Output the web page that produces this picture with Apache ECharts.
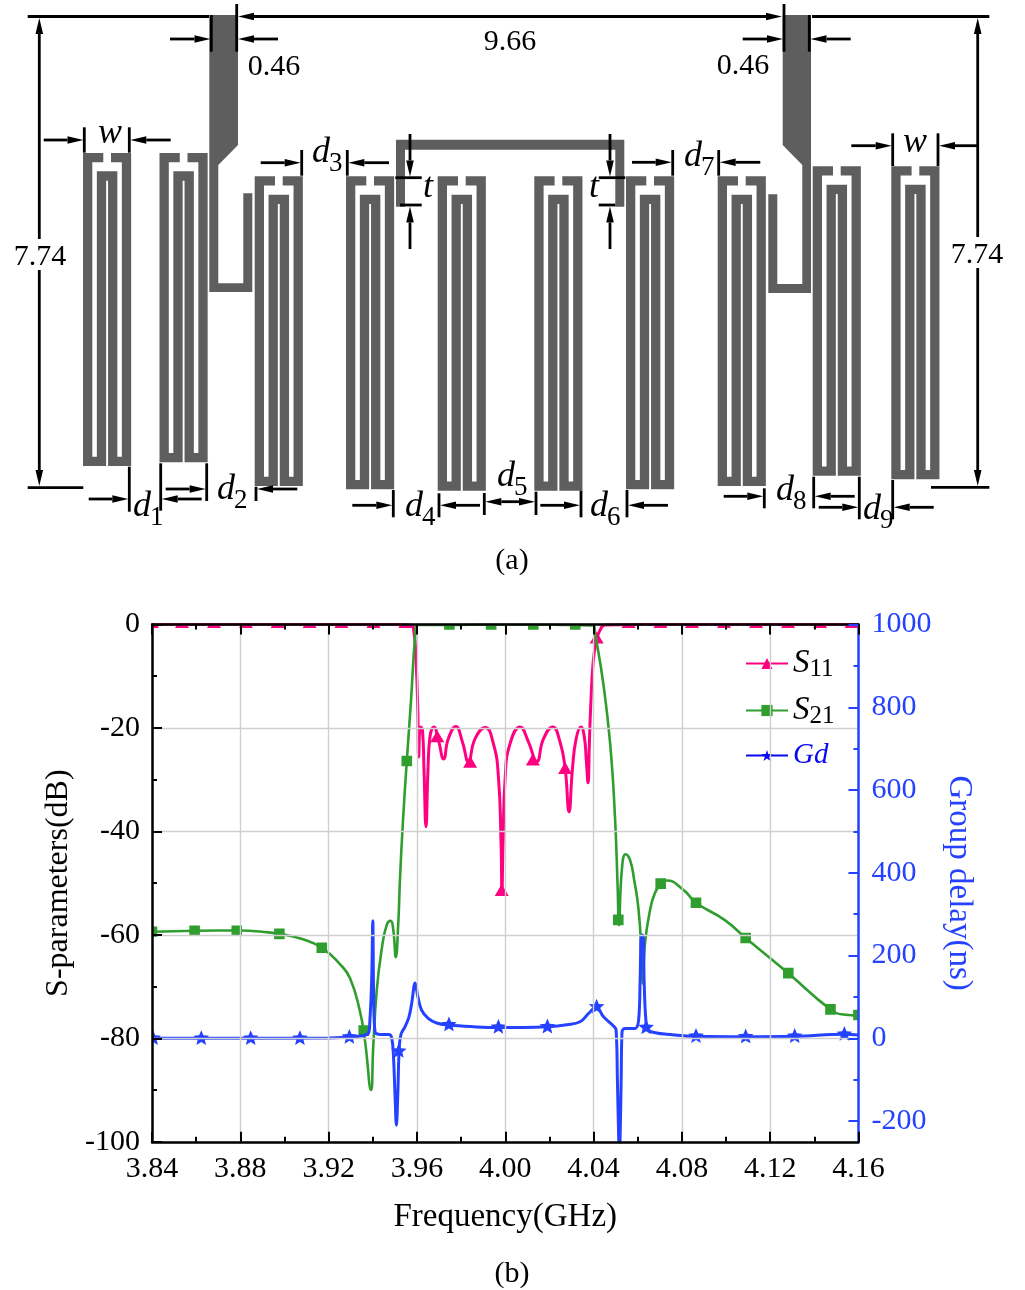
<!DOCTYPE html>
<html>
<head>
<meta charset="utf-8">
<title>Filter layout and S-parameters</title>
<style>
  html, body { margin: 0; padding: 0; background: #fff; }
  #chart { width: 1025px; height: 1290px; }
</style>
<script src="https://cdn.jsdelivr.net/npm/echarts@6/dist/echarts.min.js"></script>
</head>
<body>
<div id="chart"></div>
<script>
// values: [GHz, dB] and [GHz, ns]
const s11Curve = [
  [3.84,0],[3.90,0],[3.95,0],[3.9572,-0.1],[3.9587,-1.7],[3.9596,-6.9],[3.9604,-16.5],[3.9608,-25.6],
  [3.9616,-19.8],[3.9625,-20.4],[3.9632,-28.1],[3.9641,-39.1],[3.965,-28.1],[3.9659,-21.7],[3.9677,-19.8],
  [3.9697,-22.3],[3.9721,-26],[3.9742,-22.1],[3.9776,-19.7],[3.9806,-22.7],[3.9833,-26.5],[3.9863,-22.1],
  [3.9909,-19.9],[3.9946,-23],[3.9969,-29.4],[3.9981,-42.3],[3.9985,-51.5],[3.999,-42.3],[4.0,-29.4],
  [4.0022,-23],[4.0067,-19.8],[4.0105,-22.7],[4.0143,-26.5],[4.0173,-22.1],[4.0215,-19.8],[4.0248,-22.7],
  [4.0271,-27.7],[4.0289,-36.2],[4.0304,-28.1],[4.0321,-22.1],[4.0343,-19.8],[4.0358,-21.7],[4.0367,-26.2],
  [4.0375,-30.6],[4.0381,-23],[4.0387,-15.9],[4.0399,-6.9],[4.0414,-3],[4.0429,-1.1],[4.0452,-0.1],
  [4.06,0],[4.16,0]
];
const s21Curve = [
  [3.84,-59.4],[3.86,-59.2],[3.88,-59.15],[3.89,-59.4],[3.8977,-59.8],[3.9072,-60.7],[3.9169,-62.5],
  [3.9252,-65.7],[3.9297,-68.4],[3.9342,-74.8],[3.9365,-80.6],[3.9392,-90],[3.9402,-81.7],[3.9418,-70.7],
  [3.9441,-62.6],[3.9463,-58.1],[3.9481,-57.3],[3.9493,-59.1],[3.9504,-64.3],[3.9516,-57.2],[3.9523,-49.4],
  [3.9537,-37.8],[3.9554,-26.4],[3.9573,-14.8],[3.9591,-2.7],[3.9602,-0.1],[3.97,-0.1],[4.0,0],[4.03,-0.1],
  [4.04,-0.2],[4.0407,-1.7],[4.0444,-11.4],[4.0475,-23],[4.0497,-37.2],[4.0509,-50.7],[4.0515,-58.1],
  [4.0528,-47.5],[4.0545,-44.4],[4.0565,-45.5],[4.0584,-49.4],[4.0604,-55.2],[4.0618,-64.3],[4.0623,-69.4],
  [4.0633,-61.6],[4.0656,-55.2],[4.0678,-51.9],[4.0704,-50.2],[4.0731,-49.5],[4.0807,-51.3],[4.0864,-53.8],
  [4.0993,-57.1],[4.1089,-60.6],[4.1282,-67.4],[4.1473,-74.4],[4.1532,-75.4],[4.16,-75.6]
];
const gdCurve = [
  [3.84,0],[3.88,0],[3.92,1],[3.9297,3.6],[3.938,12],[3.9387,44],[3.9395,141],[3.94,284],[3.9404,100],
  [3.941,16],[3.9425,10],[3.9475,9],[3.9486,0],[3.9493,-36],[3.9501,-141],[3.9507,-210],[3.9513,-141],
  [3.952,-21],[3.9528,10],[3.9546,28],[3.9564,52],[3.9576,84],[3.9592,134],[3.9603,104],[3.9621,68],
  [3.9651,48],[3.9689,37],[3.9745,32],[3.9855,28],[3.9969,26],[4.0082,26],[4.0193,28],[4.0279,33],
  [4.0339,40],[4.0377,60],[4.0412,76],[4.0445,52],[4.049,30],[4.0502,20],[4.0508,-101],[4.0514,-246],
  [4.0517,-290],[4.052,-246],[4.0525,-101],[4.0529,16],[4.0543,24],[4.0588,24],[4.0604,44],[4.0611,141],
  [4.0617,249],[4.0624,249],[4.0629,141],[4.0637,44],[4.0648,20],[4.0686,13],[4.0731,10],[4.0864,5],
  [4.1089,4],[4.1311,5],[4.1536,10],[4.16,8]
];
const s11Marks = [
  [3.84,0],[3.8536,0],[3.8681,0],[3.8825,0],[3.8969,0],[3.9114,0],[3.9258,0],[3.9403,0],[3.9548,0],
  [3.9692,-22.1],[3.9841,-27],[3.9984,-51.8],[4.0125,-26.6],[4.0271,-28.2],[4.0414,-3],
  [4.0559,0],[4.0703,0],[4.0846,0],[4.0991,0],[4.1136,0],[4.1281,0],[4.1426,0],[4.1569,0]
];
const s21Marks = [
  [3.84,-59.4],[3.8593,-59.2],[3.8784,-59.2],[3.8977,-59.8],[3.9169,-62.5],[3.9359,-78.5],[3.9554,-26.4],
  [3.9747,0],[3.9936,0],[4.0127,0],[4.0317,0],[4.0512,-57.1],[4.0704,-50.1],[4.0864,-53.8],
  [4.1089,-60.6],[4.1282,-67.4],[4.1473,-74.4],[4.16,-75.5]
];
const gdMarks = [
  [3.8405,0],[3.8623,0],[3.8847,0],[3.907,0],[3.9294,3],[3.9518,-31],[3.9745,33],[3.9969,27],[4.0191,28],
  [4.0414,76],[4.0638,26],[4.0864,5],[4.1089,4],[4.1311,5],[4.1536,10]
];

const gdTicks = [-200,0,200,400,600,800,1000];
const gdMinorTicks = [-100,100,300,500,700,900];

// layout of panel (a), in page pixels: [left, top, bottom] of each hairpin
const resonators = [
  [83,153,466],[159.5,153,462.3],[254.7,176.3,486],[346,176.3,489.3],[437.7,176.3,490.7],
  [534.3,176.3,490.7],[626,176.3,489.3],[717.7,176.3,486],[812.7,166.3,475.7],[891.3,166.3,479.3]
];
const copper = [
  [[209.3,15],[238,15],[238,145],[218.3,165],[218.3,283.3],[243.3,283.3],[243.3,193.3],[252.3,193.3],[252.3,292],[209.3,292]],
  [[782.7,15],[811,15],[811,293],[768.3,293],[768.3,194.3],[777.3,194.3],[777.3,284],[802.3,284],[802.3,165],[782.7,145]],
  [[396,139.7],[624.3,139.7],[624.3,206.7],[615.3,206.7],[615.3,149.7],[405,149.7],[405,206.7],[396,206.7]]
];
const dimLines = [
  [27.7,16.5,209,16.5],[812,16.5,989.3,16.5],[27.7,487.7,83.3,487.7],[931,487.3,989.3,487.3],
  [236.7,4,236.7,51.7],[211.3,15,211.3,51.7],[784,4,784,51.7],[809.3,15,809.3,51.7],
  [84.3,127.3,84.3,152.7],[129.3,127.3,129.3,152.7],[892.7,133.3,892.7,166],[938,133.3,938,166],
  [301.7,150,301.7,175.7],[347.3,150,347.3,175.7],[672.7,150,672.7,175.7],[718.7,150,718.7,175.7],
  [395.3,177.7,421.7,177.7],[400,205,421.7,205],[598.7,177.7,625.3,177.7],[598.7,205,615.3,205],
  [129.3,466.7,129.3,511.7],[160.7,463.3,160.7,510.7],[206.7,463.3,206.7,501],[256,486.7,256,501],
  [393.3,490,393.3,517.3],[439,493.3,439,517.3],[484.3,493,484.3,515],[536,491.7,536,515],
  [581,490.7,581,517.3],[627,490,627,517.3],[764.3,488.3,764.3,508.3],[813.7,476.7,813.7,508.3],
  [859.3,476.7,859.3,519.3],[892.7,480,892.7,519.3]
];
// tail x, tail y, tip x, tip y
const arrows = [
  [510,16.5,238,16.5],[510,16.5,782,16.5],
  [170,39,210.5,39],[278,39,238,39],[742.7,39,783,39],[850.7,39,810.5,39],
  [39.3,239,39.3,18],[39.3,270,39.3,486],[977.7,237,977.7,18],[977.7,268,977.7,486],
  [43.7,140,83.5,140],[170.7,140,130.3,140],[851.3,145.7,891.7,145.7],[977,145.7,939,145.7],
  [260.7,162.7,300.7,162.7],[389,162.7,348.3,162.7],[632,162.3,671.7,162.3],[760.3,162.3,719.7,162.3],
  [410,134,410,176.5],[410,249,410,206.5],[610,134,610,176.5],[610,249,610,206.5],
  [88.7,499,128.3,499],[201.7,499,161.7,499],[165.7,489,205.7,489],[297.3,489,257,489],
  [352.3,505.3,392.3,505.3],[480,505.3,440,505.3],[510,501.7,485.3,501.7],[510,501.7,535,501.7],
  [540.3,505.3,580,505.3],[668,505.3,628,505.3],[723.7,496.3,763.3,496.3],[854.7,496.3,814.7,496.3],
  [818.7,507.3,858.3,507.3],[933.7,507.3,893.7,507.3]
];
// text, center x, center y
const plainLabels = [
  ["9.66",510,42],["0.46",274,67],["0.46",743,66],["7.74",40,257],["7.74",977,255],["(a)",512,561],["(b)",512,1274]
];
// letter, subscript, left x, letter center y
const italicLabels = [
  ["w","",98,134],["w","",903,143],["d","3",312,153],["d","7",684,157],["t","",423,188],["t","",589,188],
  ["d","1",133,507],["d","2",217,490],["d","4",405,507],["d","5",497,477],["d","6",590,507],
  ["d","8",776,491],["d","9",863,510]
];

const SERIF = '"Liberation Serif", "Times New Roman", serif';
const PINK = "#FF0080", GREEN = "#2F9E2F", BLUE = "#2442FF";
const STAR = "path://M50 0 L61.8 35.5 L100 35.5 L69.1 57.4 L80.9 95 L50 72 L19.1 95 L30.9 57.4 L0 35.5 L38.2 35.5 Z";

function hairpin(r) {
  const x = r[0], t = r[1] + 4.65, b = r[2] - 4.65, m = r[1] + 23;
  return [[x + 20.3, t], [x + 4.65, t], [x + 4.65, b], [x + 18.5, b], [x + 18.5, m], [x + 29.7, m],
    [x + 29.7, b], [x + 43.5, b], [x + 43.5, t], [x + 28, t]];
}

function markerSeries(name, data, yIndex, kind, color) {
  return {
    name: name,
    type: "custom",
    xAxisIndex: 0,
    yAxisIndex: yIndex,
    clip: true,
    z: 3,
    data: data,
    encode: { x: 0, y: 1 },
    renderItem: function (params, api) {
      const p = api.coord([api.value(0), api.value(1)]);
      const style = { fill: color };
      if (kind === "rect") {
        return { type: "rect", shape: { x: p[0] - 5.3, y: p[1] - 5.3, width: 10.6, height: 10.6 }, style: style };
      }
      if (kind === "triangle") {
        return { type: "polygon", shape: { points: [[p[0], p[1] - 8.5], [p[0] + 7, p[1] + 3.5], [p[0] - 7, p[1] + 3.5]] }, style: style };
      }
      const pts = [];
      for (let i = 0; i < 10; i++) {
        const r = i % 2 ? 3.7 : 8.2;
        const a = -Math.PI / 2 + i * Math.PI / 5;
        pts.push([p[0] + r * Math.cos(a), p[1] + r * Math.sin(a)]);
      }
      return { type: "polygon", shape: { points: pts }, style: style };
    }
  };
}

// helper for panel (a): one custom series per kind, scaled through the page-sized grid
function layoutSeries(list, draw) {
  return {
    type: "custom",
    xAxisIndex: 2,
    yAxisIndex: 3,
    clip: false,
    silent: true,
    z: 1,
    data: list.map(function (d, i) { return [i]; }),
    encode: { x: 0 },
    renderItem: function (params, api) {
      return draw(list[params.dataIndex], function (x, y) { return api.coord([x, y]); });
    }
  };
}

const chart = echarts.init(document.getElementById("chart"), null, { renderer: "canvas" });

chart.setOption({
  animation: false,
  backgroundColor: "#fff",
  legend: {
    orient: "vertical",
    left: 740,
    top: 642,
    itemWidth: 42,
    itemHeight: 14,
    itemGap: 12,
    selectedMode: false,
    data: [
      { name: "S11" },
      { name: "S21" },
      { name: "Gd", itemStyle: { color: "#0A0AF0" }, lineStyle: { color: "#0A0AF0" } }
    ],
    formatter: function (name) {
      if (name === "S11") return "{it|S}{sub|11}";
      if (name === "S21") return "{it|S}{sub|21}";
      return "{gd|Gd}";
    },
    textStyle: {
      rich: {
        it: { fontFamily: SERIF, fontStyle: "italic", fontSize: 33, color: "#000", height: 37 },
        sub: { fontFamily: SERIF, fontSize: 25, color: "#000", padding: [12, 0, 0, 0], height: 37 },
        gd: { fontFamily: SERIF, fontStyle: "italic", fontSize: 29, color: "#0A0AF0", height: 37 }
      }
    }
  },
  grid: [
    { left: 152, top: 624.5, width: 706.5, height: 517.3 },
    { left: 0, top: 0, width: 1025, height: 1290 }
  ],
  xAxis: [
    {
      type: "value", gridIndex: 0, min: 3.84, max: 4.16, interval: 0.04,
      name: "Frequency(GHz)", nameLocation: "middle", nameGap: 59,
      nameTextStyle: { fontFamily: SERIF, fontSize: 33, color: "#000" },
      z: 5,
      axisLine: { onZero: false, lineStyle: { color: "#000", width: 2.5 } },
      axisTick: { inside: true, length: 10, lineStyle: { color: "#000", width: 2 } },
      minorTick: { show: true, splitNumber: 2, length: 5, lineStyle: { color: "#000", width: 2 } },
      axisLabel: {
        fontFamily: SERIF, fontSize: 30, color: "#000", margin: 12,
        formatter: function (v) { return v.toFixed(2); }
      },
      splitLine: { show: true, lineStyle: { color: "#CFCFCF", width: 1.4 } }
    },
    {
      type: "value", gridIndex: 0, position: "top", min: 3.84, max: 4.16, interval: 0.04,
      z: 5,
      axisLine: { onZero: false, lineStyle: { color: "#000", width: 2.5 } },
      axisTick: { inside: true, length: 10, lineStyle: { color: "#000", width: 2 } },
      minorTick: { show: true, splitNumber: 2, length: 5, lineStyle: { color: "#000", width: 2 } },
      axisLabel: { show: false },
      splitLine: { show: false }
    },
    { type: "value", gridIndex: 1, min: 0, max: 1025, show: false }
  ],
  yAxis: [
    {
      type: "value", gridIndex: 0, position: "left", min: -100, max: 0, interval: 20,
      name: "S-parameters(dB)", nameLocation: "middle", nameGap: 69, nameRotate: 90,
      nameTextStyle: { fontFamily: SERIF, fontSize: 32, color: "#000" },
      z: 5,
      axisLine: { show: true, onZero: false, lineStyle: { color: "#000", width: 2.5 } },
      axisTick: { show: true, inside: true, length: 10, lineStyle: { color: "#000", width: 2 } },
      minorTick: { show: true, splitNumber: 2, length: 5, lineStyle: { color: "#000", width: 2 } },
      axisLabel: { fontFamily: SERIF, fontSize: 30, color: "#000", margin: 12 },
      splitLine: { show: true, lineStyle: { color: "#CFCFCF", width: 1.4 } }
    },
    {
      type: "value", gridIndex: 0, position: "right", min: -250, max: 1000,
      name: "Group delay(ns)", nameLocation: "middle", nameGap: 75, nameRotate: -90,
      nameTextStyle: { fontFamily: SERIF, fontSize: 33, color: BLUE },
      z: 5,
      axisLine: { show: true, onZero: false, lineStyle: { color: BLUE, width: 2.5 } },
      axisTick: { show: true, inside: true, length: 10, customValues: gdTicks, lineStyle: { color: BLUE, width: 2 } },
      axisLabel: {
        fontFamily: SERIF, fontSize: 30, color: BLUE, margin: 13, customValues: gdTicks,
        formatter: function (v) { return String(v); }
      },
      splitLine: { show: false }
    },
    {
      type: "value", gridIndex: 0, position: "right", min: -250, max: 1000,
      z: 5,
      axisLine: { show: false },
      axisTick: { show: true, inside: true, length: 5, customValues: gdMinorTicks, lineStyle: { color: BLUE, width: 2 } },
      axisLabel: { show: false },
      splitLine: { show: false }
    },
    { type: "value", gridIndex: 1, min: 0, max: 1290, inverse: true, show: false }
  ],
  series: [
    layoutSeries(resonators, function (r, c) {
      return {
        type: "polyline",
        shape: { points: hairpin(r).map(function (p) { return c(p[0], p[1]); }) },
        style: { fill: null, stroke: "#5E5E5E", lineWidth: 9.3, lineJoin: "miter", lineCap: "butt" }
      };
    }),
    layoutSeries(copper, function (poly, c) {
      return {
        type: "polygon",
        shape: { points: poly.map(function (p) { return c(p[0], p[1]); }) },
        style: { fill: "#5E5E5E" }
      };
    }),
    layoutSeries(dimLines, function (l, c) {
      const a = c(l[0], l[1]), b = c(l[2], l[3]);
      return {
        type: "line",
        shape: { x1: a[0], y1: a[1], x2: b[0], y2: b[1] },
        style: { stroke: "#000", lineWidth: 2.8 }
      };
    }),
    layoutSeries(arrows, function (l, c) {
      const a = c(l[0], l[1]), b = c(l[2], l[3]);
      const len = Math.hypot(b[0] - a[0], b[1] - a[1]);
      const ux = (b[0] - a[0]) / len, uy = (b[1] - a[1]) / len;
      const bx = b[0] - ux * 16, by = b[1] - uy * 16;
      return {
        type: "group",
        children: [
          { type: "line", shape: { x1: a[0], y1: a[1], x2: bx, y2: by }, style: { stroke: "#000", lineWidth: 2.8 } },
          {
            type: "polygon",
            shape: { points: [[b[0], b[1]], [bx - uy * 3.8, by + ux * 3.8], [bx + uy * 3.8, by - ux * 3.8]] },
            style: { fill: "#000" }
          }
        ]
      };
    }),
    layoutSeries(plainLabels, function (t, c) {
      const p = c(t[1], t[2]);
      return {
        type: "text",
        style: { x: p[0], y: p[1], text: t[0], fill: "#000", font: "30px " + SERIF, align: "center", verticalAlign: "middle" }
      };
    }),
    layoutSeries(italicLabels, function (t, c) {
      const p = c(t[2], t[3]);
      const kids = [{
        type: "text",
        style: { x: p[0], y: p[1], text: t[0], fill: "#000", font: "italic 36px " + SERIF, align: "left", verticalAlign: "middle" }
      }];
      if (t[1]) {
        kids.push({
          type: "text",
          style: { x: p[0] + 17, y: p[1] + 11, text: t[1], fill: "#000", font: "27px " + SERIF, align: "left", verticalAlign: "middle" }
        });
      }
      return { type: "group", children: kids };
    }),
    {
      name: "S11", type: "line", xAxisIndex: 0, yAxisIndex: 0, data: s11Curve,
      symbol: "triangle", showSymbol: false, smooth: 0.5,
      itemStyle: { color: PINK }, lineStyle: { color: PINK, width: 3 }
    },
    {
      name: "S21", type: "line", xAxisIndex: 0, yAxisIndex: 0, data: s21Curve,
      symbol: "rect", showSymbol: false, smooth: 0.5,
      itemStyle: { color: GREEN }, lineStyle: { color: GREEN, width: 2.6 }
    },
    {
      name: "Gd", type: "line", xAxisIndex: 0, yAxisIndex: 1, data: gdCurve,
      symbol: STAR, showSymbol: false, smooth: 0.4,
      itemStyle: { color: BLUE }, lineStyle: { color: BLUE, width: 3 }
    },
    markerSeries("S11 marks", s11Marks, 0, "triangle", PINK),
    markerSeries("S21 marks", s21Marks, 0, "rect", GREEN),
    markerSeries("Gd marks", gdMarks, 1, "star", BLUE)
  ]
});
window.addEventListener("resize", function () { chart.resize(); });
</script>
</body>
</html>
